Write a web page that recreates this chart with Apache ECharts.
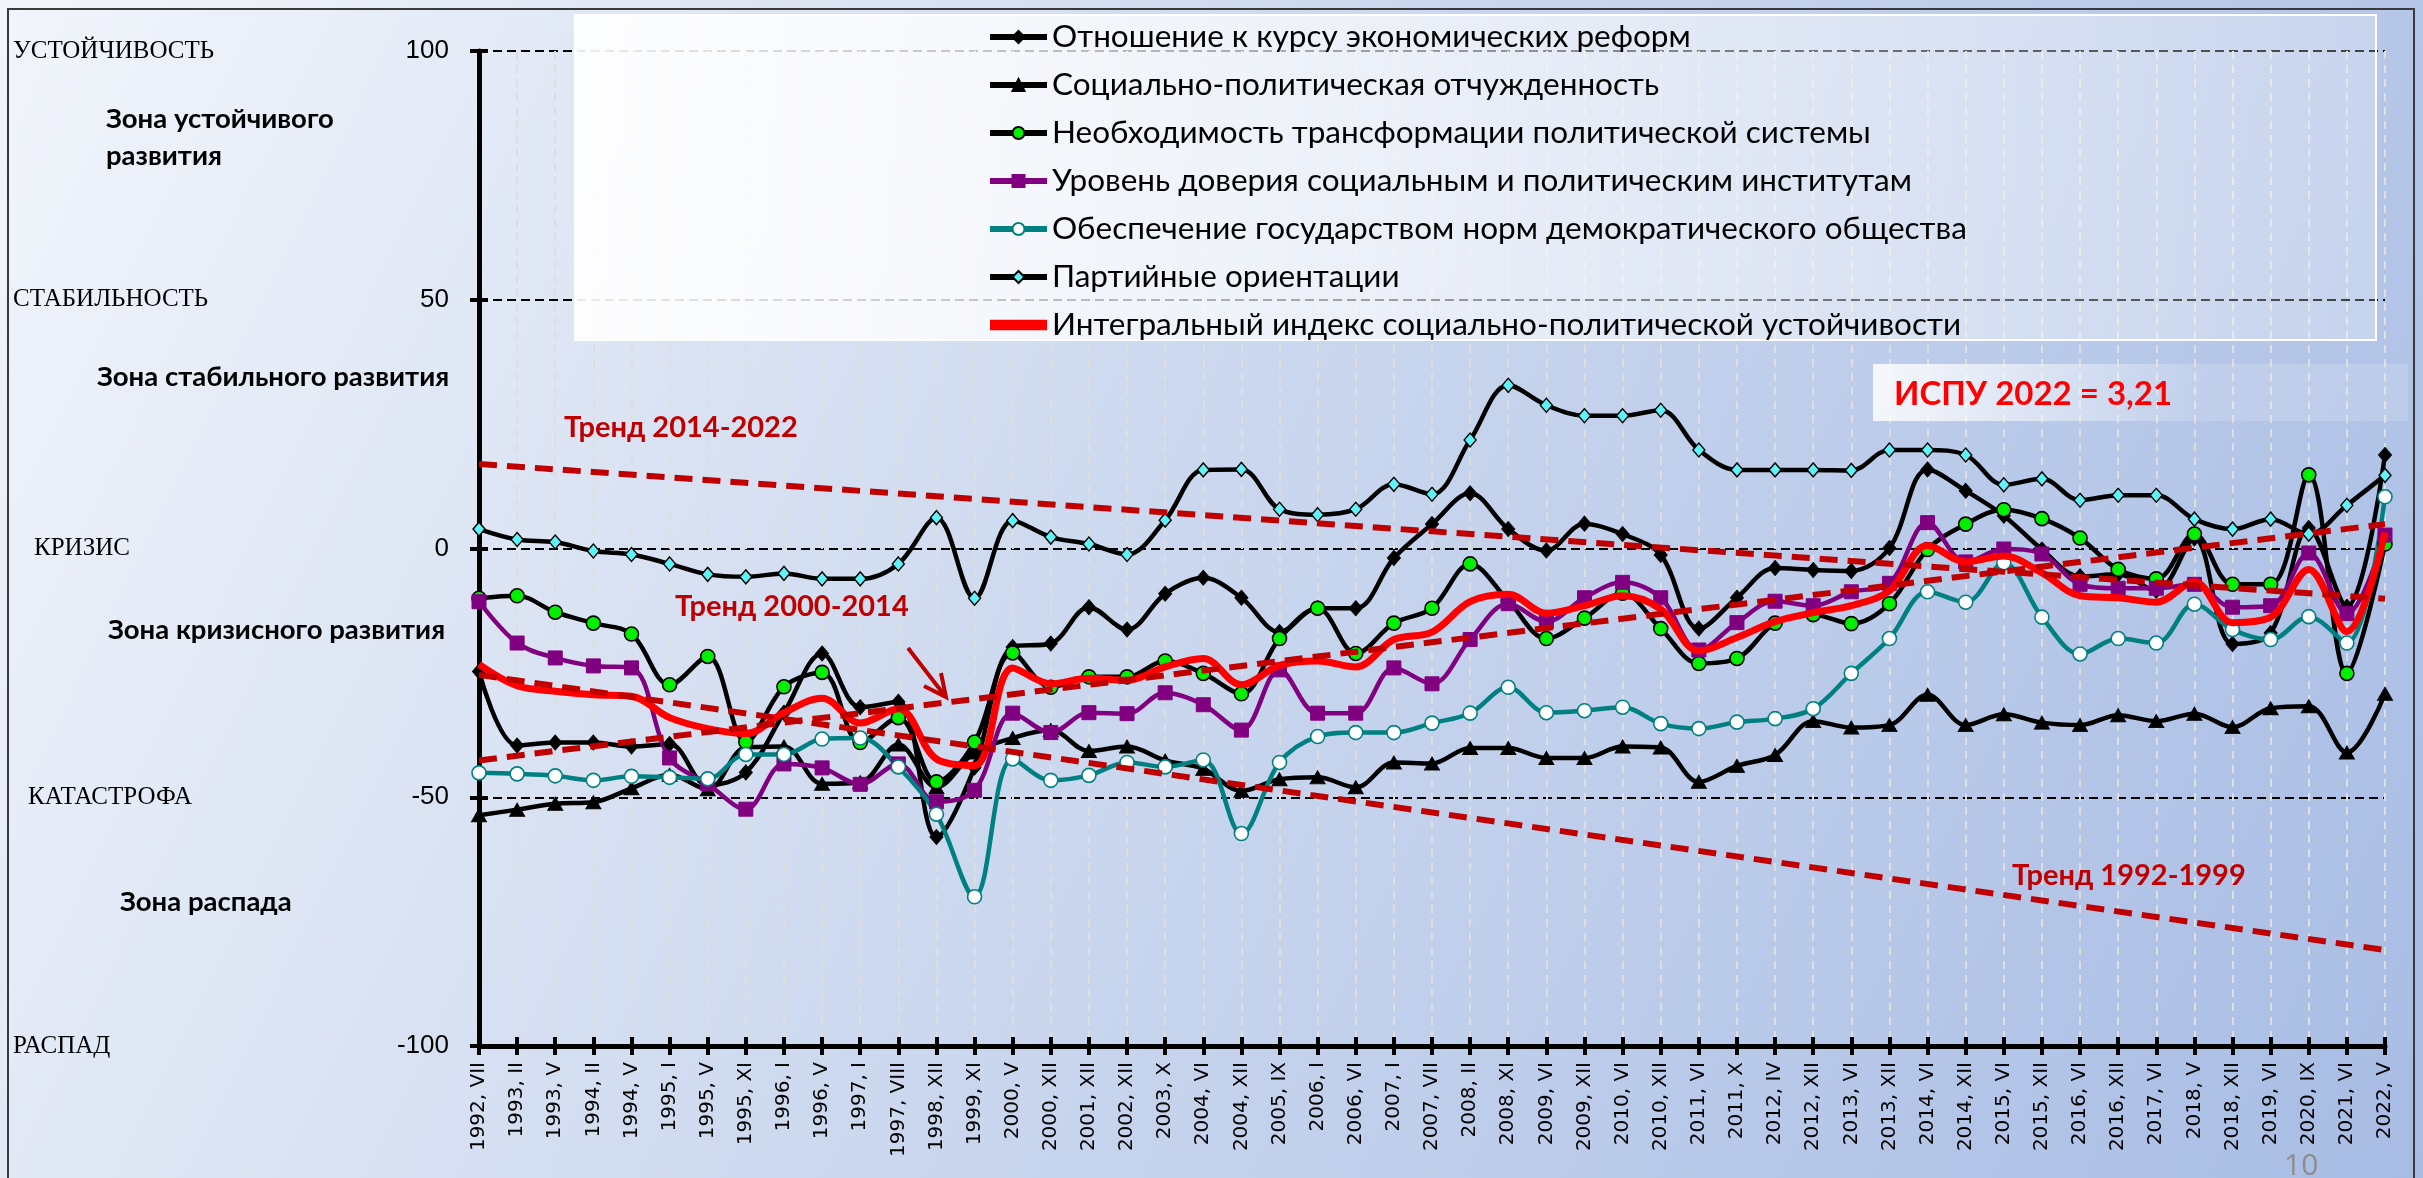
<!DOCTYPE html>
<html><head><meta charset="utf-8">
<script src="https://cdn.jsdelivr.net/npm/echarts@6/dist/echarts.min.js"></script>
<style>html,body{margin:0;padding:0;overflow:hidden;}#c{width:2423px;height:1178px;}</style>
</head><body><div id="c"></div>
<script>
const categories = ["1992, VII","1993, II","1993, V","1994, II","1994, V","1995, I","1995, V","1995, XI","1996, I","1996, V","1997, I","1997, VIII","1998, XII","1999, XI","2000, V","2000, XII","2001, XII","2002, XII","2003, X","2004, VI","2004, XII","2005, IX","2006, I","2006, VI","2007, I","2007, VII","2008, II","2008, XI","2009, VI","2009, XII","2010, VI","2010, XII","2011, VI","2011, X","2012, IV","2012, XII","2013, VI","2013, XII","2014, VI","2014, XII","2015, VI","2015, XII","2016, VI","2016, XII","2017, VI","2018, V","2018, XII","2019, VI","2020, IX","2021, VI","2022, V"];

const seriesNames = ["Отношение к курсу экономических реформ","Социально-политическая отчужденность","Необходимость трансформации политической системы","Уровень доверия социальным и политическим институтам","Обеспечение государством норм демократического общества","Партийные ориентации","Интегральный индекс социально-политической устойчивости"];

const economicReforms = [-24.7,-39.6,-39,-39,-39.8,-39.3,-47.6,-45,-33,-21.1,-31.9,-30.8,-58,-44,-19.8,-19.1,-11.8,-16.3,-9.1,-5.9,-9.9,-16.8,-12,-12,-1.9,4.9,11.1,3.9,-0.4,5,2.9,-1.3,-16.1,-9.9,-3.9,-4.3,-4.5,0.1,15.9,11.6,6.6,-0.2,-5.6,-5.2,-8.5,2,-19.2,-17,4.1,-11.7,18.8];
const alienation = [-53.6,-52.5,-51.3,-51,-48.2,-45.5,-48.4,-40,-39.8,-47.3,-47,-39.4,-48,-41,-38.1,-36.5,-40.7,-39.8,-42.6,-44.3,-48.7,-46.4,-46,-48,-43,-43.2,-40.1,-40.1,-42.1,-42.1,-39.8,-40,-46.9,-43.7,-41.5,-34.7,-36,-35.5,-29.4,-35.5,-33.3,-35,-35.5,-33.5,-34.7,-33.2,-35.9,-32.1,-31.7,-41,-29.2];
const transformationNeed = [-10,-9.5,-12.8,-15,-17.2,-27.4,-21.7,-38.9,-27.8,-24.9,-39,-34,-46.9,-38.9,-21,-27.9,-25.8,-25.8,-22.6,-25.1,-29.2,-18.1,-12,-21.1,-15,-12,-3.1,-10.5,-18.1,-14,-9,-16.1,-23.1,-22.1,-15,-13.3,-15.1,-11.1,-0.2,4.9,7.8,6,2.1,-4.2,-6.1,2.9,-7.2,-7.2,14.8,-25.1,0.9];
const trustLevel = [-10.7,-19,-22,-23.6,-24,-42.1,-47.3,-52.4,-43.3,-44.1,-47.4,-43.3,-50.9,-48.6,-33.1,-37,-33,-33.2,-29,-31.4,-36.5,-24.4,-33.1,-33.1,-24,-27.2,-18.3,-11.1,-14.7,-9.9,-6.8,-9.9,-20.4,-14.9,-10.6,-11.5,-8.7,-7,5.2,-2.7,-0.1,-1.1,-7.2,-8,-8,-7.2,-11.8,-11.5,-0.9,-13.1,2.7];
const democraticNorms = [-45.1,-45.3,-45.7,-46.6,-45.8,-46,-46.3,-41.4,-41.4,-38.3,-38.1,-43.9,-53.4,-70,-42.3,-46.6,-45.6,-43,-43.9,-42.5,-57.3,-43,-37.8,-37,-37,-35.1,-33.1,-27.9,-33,-32.6,-31.9,-35.2,-36.2,-34.9,-34.2,-32.2,-25.1,-18.1,-8.7,-10.8,-2.9,-13.8,-21.2,-18.1,-19,-11.2,-16.3,-18.3,-13.7,-19,10.4];
const partyOrientations = [3.9,1.8,1.3,-0.5,-1.2,-3.1,-5.2,-5.7,-5,-6.1,-6.1,-3.1,6.2,-10,5.6,2.3,0.9,-1.2,5.7,15.8,15.9,7.9,6.8,7.9,12.9,10.9,21.8,32.8,28.8,26.7,26.7,27.8,19.8,15.8,15.8,15.8,15.7,19.8,19.8,18.8,12.8,14,9.7,10.7,10.7,5.9,3.9,5.9,2.9,8.7,14.7];
const integralIndex = [-23.3,-27.6,-28.7,-29.4,-29.7,-34,-36.2,-37.2,-33,-30.1,-35.1,-32.2,-42.3,-43.6,-24,-27.2,-26.1,-26.5,-23.8,-22.1,-27.4,-23.5,-22.6,-23.8,-18.3,-16.8,-10.7,-9.2,-13,-11.5,-9.5,-12.2,-20.6,-17.9,-14.7,-12.9,-11.5,-8.5,0.6,-2.7,-1.5,-4.9,-9.5,-9.9,-10.8,-6.7,-14.9,-13.8,-4.2,-16.7,3.21];

// trend lines: value at first and last category
const trend1992_1999 = [-25.4, -80.7];
const trend2000_2014 = [-42.6, 4.9];
const trend2014_2022 = [17.0, -10.1];

const yTicks = [-100, -50, 0, 50, 100];
const levelLabels = ["РАСПАД","КАТАСТРОФА","КРИЗИС","СТАБИЛЬНОСТЬ","УСТОЙЧИВОСТЬ"];

const chart = echarts.init(document.getElementById('c'), null, {renderer:'canvas'});

const W = 2423, H = 1178;
const gridL = 479, gridR = 38, gridT = 51, gridB = 132;
function yPix(v){ return gridT + (100 - v) / 200 * (H - gridT - gridB); }

const blackLine = {color:'#000', width:4.5};
function mk(name, data, o){
  return Object.assign({
    name, type:'line', data, smooth:0.35, z:3,
    symbolKeepAspect:true,
  }, o);
}

const series = [
  mk(seriesNames[0], economicReforms, {symbol:'diamond', symbolSize:[13,15], lineStyle:blackLine, itemStyle:{color:'#000', borderColor:'#000', borderWidth:1}}),
  mk(seriesNames[1], alienation, {symbol:'triangle', symbolSize:[15,13], lineStyle:blackLine, itemStyle:{color:'#000', borderColor:'#000', borderWidth:1}}),
  mk(seriesNames[2], transformationNeed, {symbol:'circle', symbolSize:14, lineStyle:blackLine, itemStyle:{color:'#00f000', borderColor:'#000', borderWidth:1.6}}),
  mk(seriesNames[3], trustLevel, {symbol:'rect', symbolSize:14, lineStyle:{color:'#800080', width:4.5}, itemStyle:{color:'#800080', borderColor:'#800080', borderWidth:1}}),
  mk(seriesNames[4], democraticNorms, {symbol:'circle', symbolSize:14, lineStyle:{color:'#008080', width:4.5}, itemStyle:{color:'#ffffff', borderColor:'#008080', borderWidth:1.6}}),
  mk(seriesNames[5], partyOrientations, {symbol:'diamond', symbolSize:[12,14], lineStyle:blackLine, itemStyle:{color:'#5ff3f8', borderColor:'#000', borderWidth:1.4}}),
  mk(seriesNames[6], integralIndex, {symbol:'none', showSymbol:false, lineStyle:{color:'#ff0000', width:7}, itemStyle:{color:'#ff0000'}, z:4}),
];
const trendStyle = {color:'#c00000', width:6, type:[18,10]};
[trend1992_1999, trend2000_2014, trend2014_2022].forEach((t,i)=>{
  series.push({name:'trend'+i, type:'line', symbol:'none', z:5, silent:true,
    data:[[categories[0], t[0]],[categories[categories.length-1], t[1]]],
    lineStyle:trendStyle});
});

const g = [];
// background
g.push({type:'rect', z:-100, shape:{x:0,y:0,width:W,height:H}, style:{fill:new echarts.graphic.LinearGradient(0,0,1,1,[{offset:0,color:'#f2f5fb'},{offset:0.45,color:'#cdd9ef'},{offset:1,color:'#a8bce4'}])}, silent:true});
// frame
g.push({type:'rect', z:-99, shape:{x:8,y:9,width:2406,height:1220}, style:{fill:'none', stroke:'#3a3a3a', lineWidth:2}, silent:true});
// legend box
g.push({type:'rect', z:50, shape:{x:575,y:15,width:1801,height:325}, style:{fill:new echarts.graphic.LinearGradient(0,0,1,0,[{offset:0,color:'rgba(255,255,255,0.92)'},{offset:1,color:'rgba(255,255,255,0.25)'}]), stroke:'#ffffff', lineWidth:2}, silent:true});
// ИСПУ box
g.push({type:'rect', z:50, shape:{x:1873,y:364,width:535,height:57}, style:{fill:new echarts.graphic.LinearGradient(0,0,0.6,1,[{offset:0,color:'rgba(255,255,255,0.85)'},{offset:1,color:'rgba(255,255,255,0.15)'}])}, silent:true});
g.push({type:'text', z:51, x:1894, y:394, style:{text:'ИСПУ 2022 = ' + String(integralIndex[integralIndex.length-1]).replace('.', ','), font:'bold 33px Lato', fill:'#ff0000', textVerticalAlign:'middle', verticalAlign:'middle'}});
// level labels
const levelX = [13, 28, 34, 13, 13];
yTicks.forEach((v,i)=>{
  g.push({type:'text', z:20, x:levelX[i], y:yPix(v), style:{text:levelLabels[i], font:'25px "Liberation Serif"', fill:'#000', textVerticalAlign:'middle', verticalAlign:'middle'}});
});
const zones = [["Зона устойчивого",106,119],["развития",106,156],["Зона стабильного развития",97,377],["Зона кризисного развития",108,630],["Зона распада",120,902]];
zones.forEach(z=>g.push({type:'text', z:20, x:z[1], y:z[2], style:{text:z[0], font:'bold 27.5px Lato', fill:'#000', textVerticalAlign:'middle', verticalAlign:'middle'}}));
const trendLabels = [["Тренд 2014-2022",564,428],["Тренд 2000-2014",675,607],["Тренд 1992-1999",2012,876]];
trendLabels.forEach(z=>g.push({type:'text', z:20, x:z[1], y:z[2], style:{text:z[0], font:'bold 29px Lato', fill:'#c00000', textVerticalAlign:'middle', verticalAlign:'middle'}}));
// arrow
g.push({type:'line', z:20, shape:{x1:908,y1:648,x2:945,y2:696}, style:{stroke:'#c00000', lineWidth:4}});
g.push({type:'polyline', z:20, shape:{points:[[924,686],[946,697],[941,673]]}, style:{stroke:'#c00000', lineWidth:4, fill:'none'}});
// page number
g.push({type:'text', z:20, x:2284, y:1166, style:{text:'10', font:'30px "Open Sans"', fill:'#8c8c8c', textVerticalAlign:'middle', verticalAlign:'middle'}});

const legendData = seriesNames.map((n,i)=> i === 6 ? {name:n, icon:'path://M0,0h60v11h-60z'} : {name:n});

const option = {
  animation:false,
  backgroundColor:'transparent',
  grid:{left:gridL, right:gridR, top:gridT, bottom:gridB, containLabel:false},
  legend:{
    data:legendData, orient:'vertical', left:987, top:21, z:60, padding:0,
    itemWidth:57, itemHeight:15, itemGap:16,
    lineStyle:{width:6},
    textStyle:{fontFamily:'Lato', fontSize:31.5, color:'#000', lineHeight:31},
    selectedMode:false
  },
  xAxis:[{
    type:'category', data:categories, boundaryGap:false,
    axisLine:{onZero:false, lineStyle:{color:'#000', width:5}},
    axisTick:{show:true, interval:0, length:9, lineStyle:{color:'#000', width:4}},
    axisLabel:{interval:0, rotate:90, fontFamily:'DejaVu Sans', fontSize:20, color:'#000', margin:16},
    splitLine:{show:true, interval:0, lineStyle:{color:'#dedede', type:[8,6], width:2}}
  },{
    type:'category', data:categories, boundaryGap:false, position:'bottom',
    axisLine:{show:false, onZero:false},
    axisTick:{show:true, inside:true, interval:0, length:9, lineStyle:{color:'#000', width:4}},
    axisLabel:{show:false}, splitLine:{show:false}
  }],
  yAxis:[{
    type:'value', min:-100, max:100, interval:50,
    axisLine:{show:true, lineStyle:{color:'#000', width:5}},
    axisTick:{show:true, length:9, lineStyle:{color:'#000', width:4}},
    axisLabel:{fontFamily:'Liberation Sans', fontSize:26, color:'#000', margin:30},
    splitLine:{show:true, lineStyle:{color:'#000', type:[9,5], width:2}}
  },{
    type:'value', min:-100, max:100, interval:50, position:'left',
    axisLine:{show:false},
    axisTick:{show:true, inside:true, length:9, lineStyle:{color:'#000', width:4}},
    axisLabel:{show:false}, splitLine:{show:false}
  }],
  graphic:{elements:g},
  series
};
chart.setOption(option);
</script>
</body></html>
